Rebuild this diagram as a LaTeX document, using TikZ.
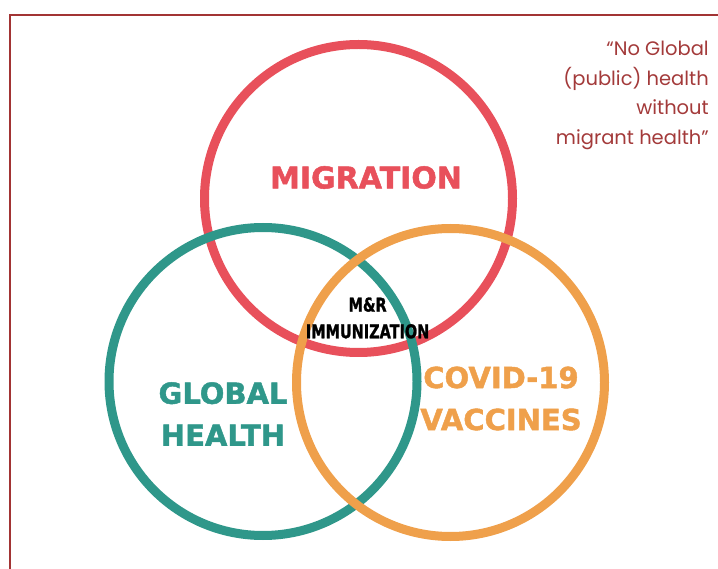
\documentclass[tikz,border=0pt]{standalone}
\usepackage{fontspec}
\usepackage{xcolor}
\usetikzlibrary{positioning}
\newfontfamily\headfont{DejaVu Sans}[BoldFeatures={FakeBold=1.6}]
\newfontfamily\immfont{DejaVu Sans}[FakeStretch=0.76, BoldFeatures={FakeBold=1.2}]
\newfontfamily\quotefont{Poppins}
\definecolor{migred}{HTML}{E8505B}
\definecolor{globteal}{HTML}{2F978A}
\definecolor{vaxorange}{HTML}{EFA04B}
\definecolor{framered}{HTML}{A23434}
\definecolor{quotered}{HTML}{A33A3A}
\tikzset{
    ring/.style={circle, draw, line width=9pt, minimum size=308pt, inner sep=0pt},
    biglabel/.style={font=\headfont\bfseries\fontsize{29}{42}\selectfont, align=center, inner sep=0pt}
}

\begin{document}
\begin{tikzpicture}[x=1pt, y=-1pt]
    \useasboundingbox (0,0) rectangle (718,569);
    \draw[framered, line width=2.5pt] (10,575) -- (10,15) -- (725,15);

    \node[ring, migred] (migration) at (358.5,198.5) {};
    \node[ring, globteal] (globalhealth) at (263,381.5) {};
    \node[ring, vaxorange] (covid) at (450.5,382.5) {};

    \node[biglabel, migred, font=\headfont\bfseries\fontsize{30}{36}\selectfont] (miglabel) at (366,177.5) {MIGRATION};
    \node[biglabel, globteal] (globlabel) at (223,414) {GLOBAL\\HEALTH};
    \node[biglabel, vaxorange] (covlabel) at (501,398.5) {COVID-19\\VACCINES};
    \node[align=center, inner sep=0pt, font=\immfont\bfseries\fontsize{19}{26.7}\selectfont] (immlabel) at (367.6,318) {M\&R\\IMMUNIZATION};

    \node[anchor=north east, align=right, inner sep=0pt, text=quotered, font=\quotefont\fontsize{19.5}{29.5}\selectfont] (quote) at (709,41) {“No Global\\(public) health\\without\\migrant health”};
\end{tikzpicture}
\end{document}
